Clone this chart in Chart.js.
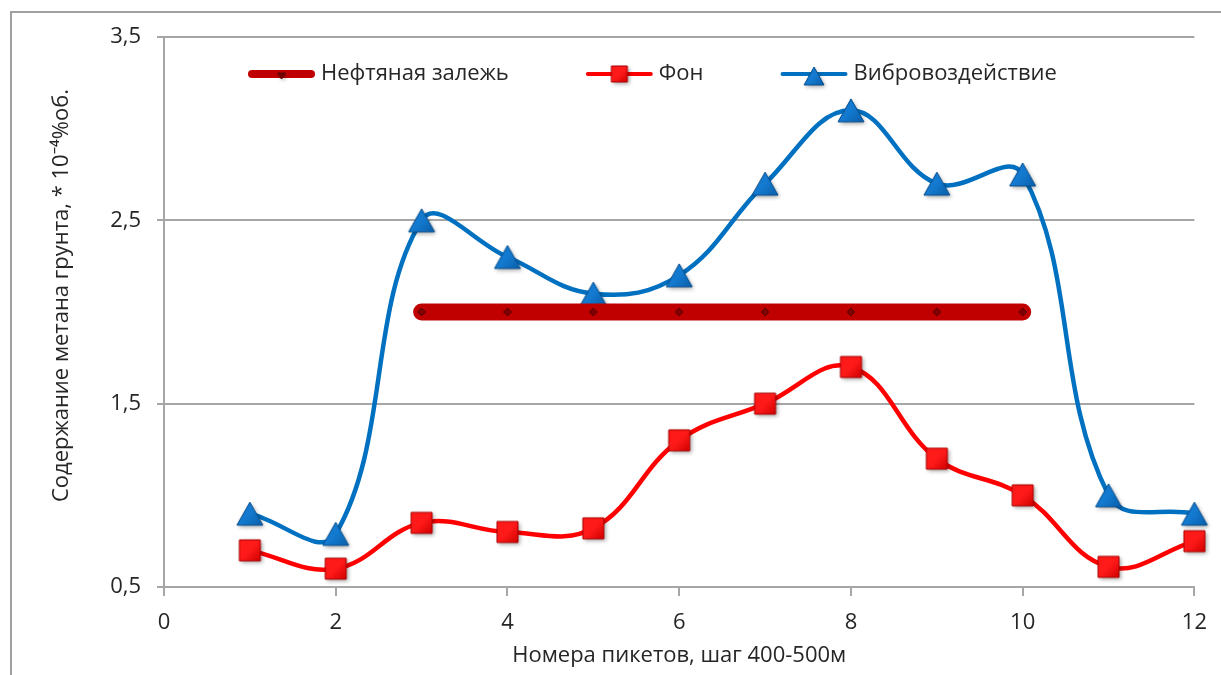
<!DOCTYPE html>
<html lang="ru">
<head>
<meta charset="utf-8">
<title>Содержание метана грунта</title>
<script src="https://cdn.jsdelivr.net/npm/chart.js@4/dist/chart.umd.min.js"></script>
<style>
  html, body { margin: 0; padding: 0; background: #ffffff; }
  #wrap { position: relative; width: 1221px; height: 675px; }
  canvas { display: block; }
</style>
</head>
<body>
<div id="wrap"><canvas id="chart" width="1221" height="675"></canvas></div>
<script>
// Picket numbers (x) and methane content readings, * 10^-4 %vol.
const pickets = [1, 2, 3, 4, 5, 6, 7, 8, 9, 10, 11, 12];
const fonValues = [0.70, 0.60, 0.85, 0.80, 0.82, 1.30, 1.50, 1.70, 1.20, 1.00, 0.61, 0.75];
const vibroValues = [0.90, 0.79, 2.50, 2.30, 2.10, 2.20, 2.70, 3.10, 2.70, 2.75, 1.00, 0.90];
// Oil deposit outline: pickets 3..10 at level 2.0
const depositPickets = [3, 4, 5, 6, 7, 8, 9, 10];
const depositLevel = [2.0, 2.0, 2.0, 2.0, 2.0, 2.0, 2.0, 2.0];

const seriesNames = ['Нефтяная залежь', 'Фон', 'Вибровоздействие'];
const xTicks = [0, 2, 4, 6, 8, 10, 12];
const yTicks = [0.5, 1.5, 2.5, 3.5];
const xTitle = 'Номера пикетов, шаг 400-500м';
const yTitle = 'Содержание метана грунта, * 10⁻⁴%об.';

const FONT = '"Open Sans", "Noto Sans", "DejaVu Sans", sans-serif';
const FONT_SIZE = 22;
const TEXT = '#262626';
const GRID = '#a6a6a6';

const toPoints = (xs, ys) => xs.map((x, i) => ({ x: x, y: ys[i] }));

// Bevelled marker sprite with a soft drop shadow, centred on its box
function makeMarker(shape, w, h, light, dark, edge) {
  const m = 6;
  const c = document.createElement('canvas');
  c.width = w + 2 * m;
  c.height = h + 2 * m;
  const g = c.getContext('2d');
  const x0 = m, y0 = m;
  const path = () => {
    g.beginPath();
    if (shape === 'square') {
      g.rect(x0, y0, w, h);
    } else if (shape === 'down') {
      g.moveTo(x0, y0);
      g.lineTo(x0 + w, y0);
      g.lineTo(x0 + w / 2, y0 + h);
      g.closePath();
    } else {
      g.moveTo(x0 + w / 2, y0);
      g.lineTo(x0 + w, y0 + h);
      g.lineTo(x0, y0 + h);
      g.closePath();
    }
  };
  g.save();
  g.shadowColor = 'rgba(0,0,0,0.35)';
  g.shadowBlur = 4;
  g.shadowOffsetX = 1.5;
  g.shadowOffsetY = 2;
  path();
  g.fillStyle = dark;
  g.fill();
  g.restore();
  const grad = g.createLinearGradient(x0, y0, x0 + w, y0 + h);
  grad.addColorStop(0, light);
  grad.addColorStop(0.5, light);
  grad.addColorStop(1, dark);
  path();
  g.fillStyle = grad;
  g.fill();
  g.lineWidth = 1;
  g.strokeStyle = edge;
  g.stroke();
  return c;
}

const squareMark = makeMarker('square', 21, 21, '#ff1a1a', '#d00000', '#a80000');
const triangleMark = makeMarker('triangle', 26, 23, '#137ad0', '#0a5ea8', '#0a4f8c');
const squareLegend = makeMarker('square', 16, 16, '#ff1a1a', '#d00000', '#a80000');
const triangleLegend = makeMarker('triangle', 20, 18, '#137ad0', '#0a5ea8', '#0a4f8c');
const depositLegend = makeMarker('down', 8, 6, '#7a0000', '#5a0000', '#5a0000');

// Outer frame of the chart object
const framePlugin = {
  id: 'frame',
  beforeDraw(chart) {
    const ctx = chart.ctx;
    ctx.save();
    ctx.fillStyle = '#ffffff';
    ctx.fillRect(0, 0, chart.width, chart.height);
    ctx.strokeStyle = '#a0a0a0';
    ctx.lineWidth = 2;
    ctx.strokeRect(11, 12, chart.width + 20, chart.height + 20);
    ctx.restore();
  }
};

// Legend row: line sample with its marker, then the series name
const legendPlugin = {
  id: 'rowLegend',
  afterDraw(chart, args, opts) {
    const ctx = chart.ctx;
    const y = opts.y;
    let x = opts.x;
    ctx.save();
    ctx.font = FONT_SIZE + 'px ' + FONT;
    ctx.textBaseline = 'middle';
    ctx.fillStyle = TEXT;
    chart.data.datasets.forEach((ds, i) => {
      const sample = opts.samples[i];
      ctx.save();
      ctx.strokeStyle = ds.borderColor;
      ctx.lineWidth = sample.lineWidth;
      ctx.lineCap = 'round';
      ctx.beginPath();
      ctx.moveTo(x + sample.lineWidth / 2, y);
      ctx.lineTo(x + opts.sampleWidth - sample.lineWidth / 2, y);
      ctx.stroke();
      Chart.helpers.drawPoint(ctx, {
        pointStyle: sample.style,
        radius: 10,
        borderWidth: 0,
        rotation: 0
      }, x + opts.sampleWidth / 2, y + (sample.dy || 0));
      ctx.restore();
      const tx = x + opts.sampleWidth + opts.gap;
      ctx.fillText(ds.label, tx, y);
      x = tx + ctx.measureText(ds.label).width + opts.spacing;
    });
    ctx.restore();
  }
};

new Chart(document.getElementById('chart'), {
  type: 'line',
  data: {
    datasets: [
      {
        label: seriesNames[0],
        data: toPoints(depositPickets, depositLevel),
        borderColor: '#c00000',
        borderWidth: 17,
        borderCapStyle: 'round',
        tension: 0,
        pointStyle: 'rectRot',
        pointRadius: 4,
        pointBackgroundColor: '#800000',
        pointBorderColor: '#5c0000',
        pointBorderWidth: 1,
        clip: false
      },
      {
        label: seriesNames[1],
        data: toPoints(pickets, fonValues),
        borderColor: '#ff0000',
        borderWidth: 4.5,
        tension: 0.4,
        pointStyle: squareMark,
        pointRadius: 12,
        clip: false
      },
      {
        label: seriesNames[2],
        data: toPoints(pickets, vibroValues),
        borderColor: '#0070c0',
        borderWidth: 4.5,
        tension: 0.4,
        pointStyle: triangleMark,
        pointRadius: 13,
        clip: false
      }
    ]
  },
  options: {
    responsive: false,
    animation: false,
    events: [],
    layout: { padding: { left: 40, right: 24, top: 37, bottom: 0 } },
    plugins: {
      legend: { display: false },
      tooltip: { enabled: false },
      rowLegend: {
        x: 248, y: 74, sampleWidth: 67, gap: 6, spacing: 77,
        samples: [
          { lineWidth: 8, style: depositLegend, dy: 2 },
          { lineWidth: 4, style: squareLegend },
          { lineWidth: 4, style: triangleLegend, dy: 2 }
        ]
      }
    },
    scales: {
      x: {
        type: 'linear',
        min: 0, max: 12,
        afterFit(scale) { scale.height = 88; },
        afterBuildTicks(scale) { scale.ticks = xTicks.map(v => ({ value: v })); },
        grid: { drawOnChartArea: false, drawTicks: true, tickLength: 9, color: GRID, lineWidth: 2 },
        border: { display: true, color: GRID, width: 2 },
        ticks: {
          color: TEXT, padding: 14,
          font: { family: FONT, size: FONT_SIZE },
          callback: v => String(v)
        },
        title: {
          display: true, text: xTitle, color: TEXT,
          font: { family: FONT, size: FONT_SIZE },
          padding: { top: 0, bottom: 6 }
        }
      },
      y: {
        min: 0.5, max: 3.5,
        afterFit(scale) { scale.width = 124; },
        afterBuildTicks(scale) { scale.ticks = yTicks.map(v => ({ value: v })); },
        grid: { drawOnChartArea: true, drawTicks: true, tickLength: 7, color: GRID, lineWidth: 2 },
        border: { display: true, color: GRID, width: 2 },
        ticks: {
          color: TEXT, padding: 16,
          font: { family: FONT, size: FONT_SIZE },
          callback: v => v.toFixed(1).replace('.', ',')
        },
        title: {
          display: true,
          // em + en space lead-in lifts the rotated title slightly above the axis centre
          text: '\u2003\u2002' + yTitle,
          color: TEXT,
          font: { family: FONT, size: FONT_SIZE },
          padding: { top: 9, bottom: 0 }
        }
      }
    }
  },
  plugins: [framePlugin, legendPlugin]
});
</script>
</body>
</html>
